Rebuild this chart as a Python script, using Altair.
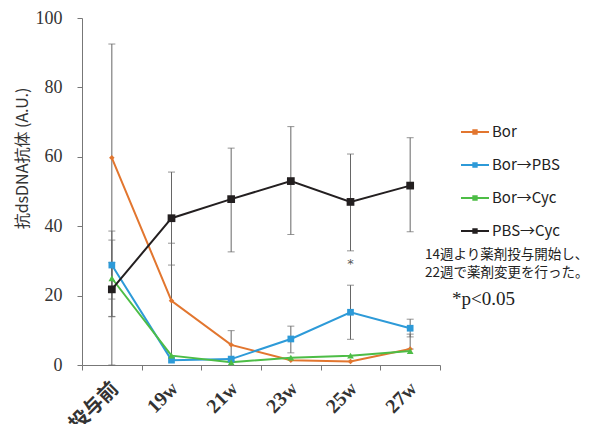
import altair as alt
import pandas as pd

cats = ["投与前", "19w", "21w", "23w", "25w", "27w"]
series = ["Bor", "Bor→PBS", "Bor→Cyc", "PBS→Cyc"]

bor = [59.7, 18.5, 5.8, 1.4, 1.0, 4.6]
bor_lo = [0.0, 2.0, 1.4, 1.4, 1.0, 4.6]
bor_hi = [92.5, 35.1, 9.9, 1.4, 1.0, 8.9]

bor_pbs = [28.8, 1.4, 1.7, 7.5, 15.2, 10.6]
bor_pbs_lo = [19.0, 1.4, 1.7, 3.5, 7.4, 8.1]
bor_pbs_hi = [38.6, 1.4, 1.7, 11.2, 23.0, 13.2]

bor_cyc = [25.0, 2.7, 0.8, 2.1, 2.7, 4.0]
bor_cyc_lo = [14.0, 2.7, 0.8, 2.1, 2.7, 4.0]
bor_cyc_hi = [36.0, 2.7, 0.8, 2.1, 2.7, 4.0]

pbs_cyc = [21.8, 42.3, 47.8, 53.0, 47.0, 51.7]
pbs_cyc_lo = [13.9, 28.8, 32.6, 37.6, 32.9, 38.4]
pbs_cyc_hi = [29.5, 55.6, 62.5, 68.7, 60.8, 65.5]

colors = ["#E2762F", "#2D9AD8", "#4DBD46", "#231F20"]
shapes = ["diamond", "square", "triangle-up", "square"]
sizes = [30, 45, 45, 60]

rows = []
for s, vals, lo, hi in [
    ("Bor", bor, bor_lo, bor_hi),
    ("Bor→PBS", bor_pbs, bor_pbs_lo, bor_pbs_hi),
    ("Bor→Cyc", bor_cyc, bor_cyc_lo, bor_cyc_hi),
    ("PBS→Cyc", pbs_cyc, pbs_cyc_lo, pbs_cyc_hi),
]:
    for c, v, l, h in zip(cats, vals, lo, hi):
        rows.append(dict(cat=c, series=s, value=v, lo=l, hi=h))
df = pd.DataFrame(rows)
err = df[df["hi"] > df["lo"]]

sig_cat = ["25w"]
sig_y = [29.0]

xenc = alt.X(
    "cat:N",
    sort=cats,
    bandPosition=0.5,
    scale=alt.Scale(type="band", paddingInner=0, paddingOuter=0, domain=cats),
    axis=alt.Axis(
        title=None,
        labelAngle=-45,
        labelAlign="right",
        labelBaseline="top",
        labelFont="Liberation Serif, Noto Sans CJK JP",
        labelFontSize=20,
        labelFontWeight="bold",
        labelColor="#333",
        labelPadding=8,
        labelOffset=-4,
        tickBand="extent",
        tickSize=5,
        tickColor="#777",
        domainColor="#777",
        grid=False,
    ),
)
yscale = alt.Scale(domain=[0, 100], nice=False)
yaxis = alt.Axis(
    values=[0, 20, 40, 60, 80, 100],
    title="抗dsDNA抗体 (A.U.)",
    titleFont="Noto Sans CJK JP",
    titleFontSize=16,
    titleFontWeight="normal",
    titleColor="#333",
    titleX=-52,
    titleY=140,
    labelFont="Liberation Serif",
    labelFontSize=18,
    labelColor="#333",
    labelPadding=15,
    tickSize=5,
    tickColor="#777",
    domainColor="#777",
    grid=False,
)

legend = alt.Legend(
    title=None,
    orient="none",
    legendX=378,
    legendY=99,
    labelFont="Noto Sans CJK JP",
    labelFontSize=15,
    labelColor="#222",
    labelOffset=2,
    rowPadding=10,
    symbolType="M-1,0H1M-0.12,-0.12H0.12V0.12H-0.12Z",
    symbolSize=784,
    symbolStrokeWidth=2,
)

rules = alt.Chart(err).mark_rule(color="#666", strokeWidth=1).encode(
    x=xenc, y=alt.Y("lo:Q", scale=yscale, axis=yaxis), y2="hi:Q"
)
cap_hi = alt.Chart(err).mark_tick(color="#666", orient="horizontal", size=7, thickness=1).encode(
    x=xenc, y=alt.Y("hi:Q", scale=yscale)
)
cap_lo = alt.Chart(err).mark_tick(color="#666", orient="horizontal", size=7, thickness=1).encode(
    x=xenc, y=alt.Y("lo:Q", scale=yscale)
)
lines = alt.Chart(df).mark_line(strokeWidth=2).encode(
    x=xenc,
    y=alt.Y("value:Q", scale=yscale),
    color=alt.Color("series:N", scale=alt.Scale(domain=series, range=colors), legend=legend),
    detail="series:N",
)
point_layers = []
for s, c, sh, sz in zip(series, colors, shapes, sizes):
    point_layers.append(
        alt.Chart(df[df["series"] == s]).mark_point(
            filled=True, opacity=1, color=c, shape=sh, size=sz
        ).encode(x=xenc, y=alt.Y("value:Q", scale=yscale))
    )

star = alt.Chart(pd.DataFrame({"cat": sig_cat, "y": sig_y, "t": ["*"]})).mark_text(
    font="DejaVu Sans", fontSize=13, color="#555"
).encode(x=xenc, y=alt.Y("y:Q", scale=yscale), text="t:N")

note1 = alt.Chart(pd.DataFrame({"t": ["14週より薬剤投与開始し、"]})).mark_text(
    font="Noto Sans CJK JP", fontSize=13.5, align="left", color="#222"
).encode(x=alt.value(343), y=alt.value(237), text="t:N")
note2 = alt.Chart(pd.DataFrame({"t": ["22週で薬剤変更を行った。"]})).mark_text(
    font="Noto Sans CJK JP", fontSize=13.5, align="left", color="#222"
).encode(x=alt.value(343), y=alt.value(255), text="t:N")
note3 = alt.Chart(pd.DataFrame({"t": ["*p<0.05"]})).mark_text(
    font="Liberation Serif", fontSize=19, align="left", color="#222"
).encode(x=alt.value(370), y=alt.value(281), text="t:N")

chart = alt.layer(
    rules, cap_hi, cap_lo, lines, *point_layers, star, note1, note2, note3
).properties(
    width=358,
    height=347,
    autosize=alt.AutoSizeParams(type="none"),
    padding={"left": 74, "top": 10, "right": 150, "bottom": 59},
    background="white",
).configure_view(stroke=None)

chart.save("out.html", embed_options={"renderer": "svg", "actions": False})
